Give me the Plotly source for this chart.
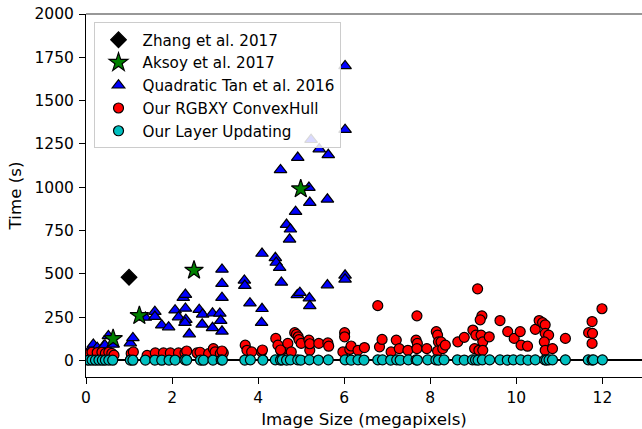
import plotly.graph_objects as go

# ---- data ----
zhang_x = [1.0]
zhang_y = [480]

aksoy_x = [0.63, 1.24, 2.51, 4.99]
aksoy_y = [125, 258, 520, 990]

tan_x = [0.10, 0.17, 0.26, 0.41, 0.44, 0.52, 0.63, 1.03, 1.09, 1.38, 1.60, 1.60, 1.76, 1.92,
         2.07, 2.15, 2.26, 2.31, 2.31, 2.32, 2.30, 2.40, 2.63, 2.71, 2.70, 2.94, 2.94, 3.11,
         3.13, 3.16, 3.16, 3.16, 3.16, 3.68, 3.69, 3.81, 4.09, 4.08, 4.09, 4.40, 4.42, 4.50,
         4.54, 4.52, 4.66, 4.75, 4.73, 4.87, 4.92, 4.91, 4.97, 5.18, 5.20, 5.19, 5.20, 5.23,
         5.42, 5.63, 5.61, 5.61, 6.02, 6.02, 6.02, 6.02]
tan_y = [64, 92, 73, 83, 88, 141, 92, 100, 130, 248, 281, 253, 203, 192,
         290, 250, 362, 380, 300, 235, 218, 152, 293, 266, 208, 272, 188, 271,
         230, 168, 525, 443, 362, 462, 432, 330, 298, 218, 617, 592, 565, 535,
         450, 1100, 784, 757, 699, 859, 1171, 378, 391, 998, 911, 360, 315, 1274,
         1220, 1187, 930, 435, 1700, 1332, 491, 468]

rgbxy_x = [0.06, 0.14, 0.26, 0.37, 0.45, 0.53, 0.60, 0.65, 1.05, 1.10, 1.42, 1.61, 1.80, 1.96,
           2.15, 2.30, 2.34, 2.58, 2.65, 2.85, 2.96, 3.00, 3.12, 3.19, 3.16, 3.70, 3.74, 3.85,
           4.08, 4.10, 4.41, 4.46, 4.54, 4.52, 4.69, 4.77, 4.85, 4.89, 4.93, 4.95, 5.00, 5.18,
           5.20, 5.20, 5.41, 5.62, 5.64, 6.01, 6.01, 5.97, 6.13, 6.16, 6.32, 6.47, 6.78, 6.82,
           6.88, 7.09, 7.21, 7.28, 7.48, 7.67, 7.69, 7.70, 7.69, 7.92, 8.14, 8.17, 8.19, 8.17,
           8.25, 8.29, 8.35, 8.64, 8.79, 8.99, 9.06, 9.18, 9.22, 9.37, 9.03, 9.13, 9.22, 9.10,
           9.20, 9.16, 9.62, 9.80, 9.95, 10.09, 10.11, 10.26, 10.44, 10.53, 10.61, 10.67, 10.67,
           10.75, 10.65, 10.67, 10.84, 11.14, 11.68, 11.76, 11.77, 11.76, 11.99]
rgbxy_y = [35, 47, 45, 47, 40, 47, 40, 30, 40, 49, 29, 43, 43, 43,
           43, 43, 54, 43, 47, 39, 68, 49, 39, 43, 54, 88, 58, 49,
           49, 60, 127, 88, 54, 60, 98, 49, 160, 150, 136, 120, 98, 117,
           58, 96, 98, 101, 82, 160, 136, 49, 63, 83, 58, 74, 316, 78,
           121, 49, 117, 68, 58, 117, 257, 98, 68, 68, 166, 146, 107, 54,
           107, 68, 88, 107, 133, 175, 146, 146, 107, 136, 68, 58, 58, 413,
           257, 234, 230, 166, 127, 166, 88, 82, 179, 230, 218, 205, 156,
           146, 107, 58, 68, 127, 160, 224, 156, 98, 298]

layer_x = [0.06, 0.14, 0.22, 0.30, 0.38, 0.45, 0.53, 0.62, 1.03, 1.09, 1.38, 1.60, 1.76, 1.93,
           2.07, 2.30, 2.34, 2.66, 2.73, 2.95, 3.14, 3.17, 3.69, 3.82, 4.11, 4.40, 4.52, 4.56,
           4.66, 4.75, 4.92, 4.99, 5.19, 5.40, 5.63, 6.02, 6.16, 6.32, 6.46, 6.78, 6.89, 7.08,
           7.22, 7.30, 7.49, 7.67, 7.70, 7.94, 8.13, 8.19, 8.32, 8.63, 8.79, 8.98, 9.05, 9.11,
           9.21, 9.38, 9.62, 9.79, 9.93, 10.10, 10.27, 10.44, 10.66, 10.70, 10.76, 10.84, 11.14,
           11.67, 11.76, 11.79, 12.00]
layer_y = [1, 2, 1, 2, 1, 2, 2, 1, 2, 1, 2, 2, 1, 2,
           2, 3, 2, 2, 1, 2, 3, 2, 2, 3, 2, 3, 2, 3,
           2, 3, 3, 2, 3, 2, 3, 3, 2, 3, 2, 3, 3, 2,
           3, 2, 3, 3, 2, 3, 3, 2, 3, 3, 2, 3, 3, 2,
           3, 3, 3, 2, 3, 3, 2, 3, 3, 2, 3, 3, 3,
           3, 2, 3, 3]

x_ticks = [0, 2, 4, 6, 8, 10, 12]
y_ticks = [0, 250, 500, 750, 1000, 1250, 1500, 1750, 2000]

FONT = "DejaVu Sans"
edge = dict(color="black", width=1.2)

fig = go.Figure()
fig.add_trace(go.Scatter(x=tan_x, y=tan_y, mode="markers", name="Quadratic Tan et al. 2016",
                         legendrank=3,
                         marker=dict(symbol="triangle-up", size=11, color="#0000ff", line=edge)))
fig.add_trace(go.Scatter(x=rgbxy_x, y=rgbxy_y, mode="markers", name="Our RGBXY ConvexHull",
                         legendrank=4,
                         marker=dict(symbol="circle", size=10, color="#ff0000", line=edge)))
fig.add_trace(go.Scatter(x=layer_x, y=layer_y, mode="markers", name="Our Layer Updating",
                         legendrank=5,
                         marker=dict(symbol="circle", size=10, color="#00bfbf", line=edge)))
fig.add_trace(go.Scatter(x=aksoy_x, y=aksoy_y, mode="markers", name="Aksoy et al. 2017",
                         legendrank=2,
                         marker=dict(symbol="star", size=14, color="#008000", line=edge)))
fig.add_trace(go.Scatter(x=zhang_x, y=zhang_y, mode="markers", name="Zhang et al. 2017",
                         legendrank=1,
                         marker=dict(symbol="diamond", size=12, color="#000000", line=edge)))

fig.update_layout(
    width=642, height=429,
    margin=dict(l=86, r=0, t=14, b=52),
    paper_bgcolor="white", plot_bgcolor="white",
    font=dict(family=FONT, size=15.5, color="black"),
    showlegend=True,
    legend=dict(x=0.0135, y=0.977, xanchor="left", yanchor="top",
                bgcolor="rgba(255,255,255,0.85)", bordercolor="#cccccc", borderwidth=1,
                font=dict(family=FONT, size=15.2, color="black"),
                tracegroupgap=0, itemwidth=38),
    xaxis=dict(range=[0, 12.92], tickvals=x_ticks, ticktext=[str(v) for v in x_ticks],
               showline=True, linecolor="black", linewidth=1, mirror=False,
               ticks="outside", ticklen=6, tickwidth=1, tickcolor="black",
               showgrid=False, zeroline=False, automargin=False,
               ticklabeloverflow="allow",
               title=dict(text="Image Size (megapixels)", font=dict(size=16.7), standoff=10)),
    yaxis=dict(range=[-96, 2000], tickvals=y_ticks, ticktext=[str(v) for v in y_ticks],
               showline=True, linecolor="black", linewidth=1, mirror=False,
               ticks="outside", ticklen=6, tickwidth=1, tickcolor="black",
               ticklabelstandoff=2, ticklabeloverflow="allow",
               showgrid=False, zeroline=True, zerolinecolor="black", zerolinewidth=1.5,
               automargin=False,
               title=dict(text="Time (s)", font=dict(size=16.7), standoff=8)),
    shapes=[dict(type="line", xref="paper", yref="paper", x0=0, x1=1, y0=1, y1=1,
                 line=dict(color="#333333", width=1.2), layer="above")],
)

# remove the browser's default 8px body margin so the figure sits at the page origin
fig.write_html("out.html", config={"displayModeBar": False},
               post_script="document.body.style.margin='0';")
